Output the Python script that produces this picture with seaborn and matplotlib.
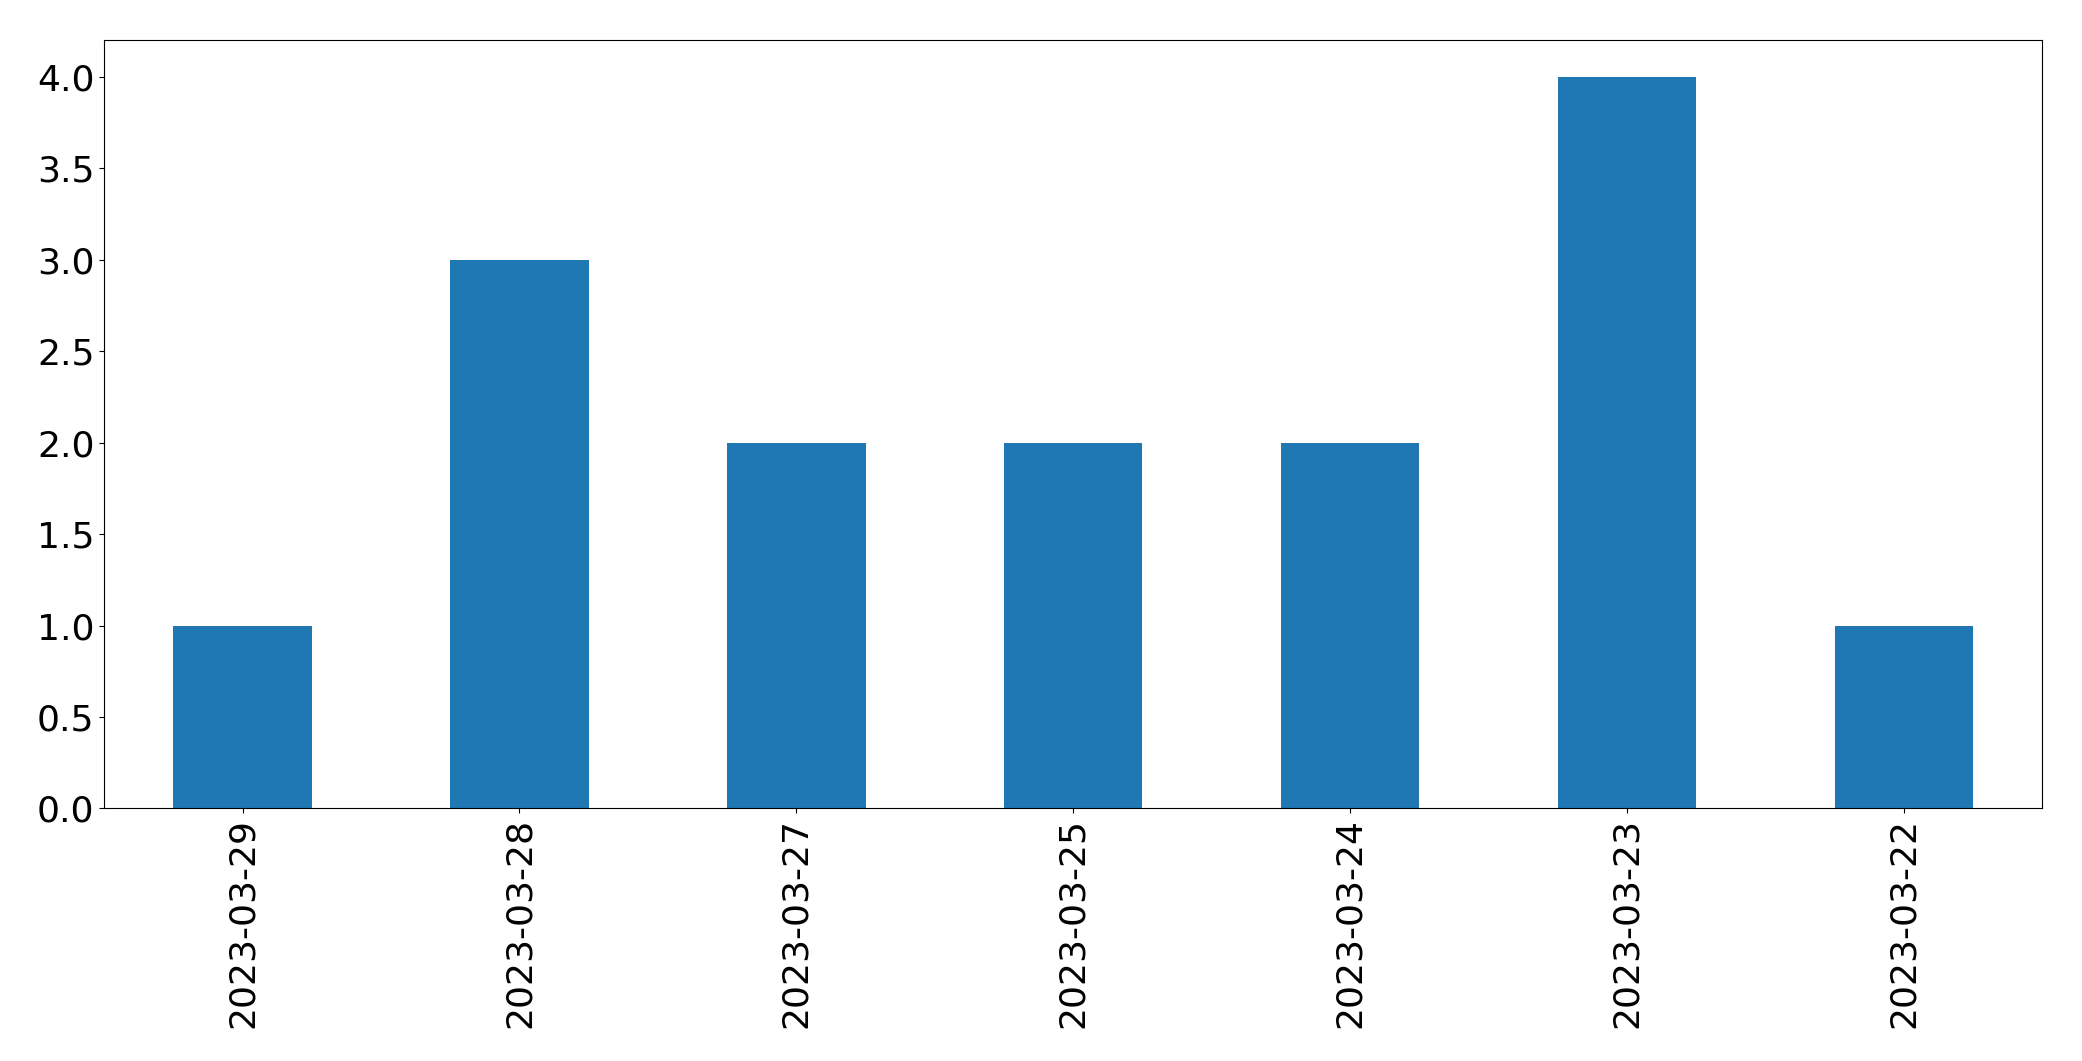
import pandas as pd
import matplotlib.pyplot as plt
import seaborn as sns

# 날짜별 건수
dates = ['2023-03-29', '2023-03-28', '2023-03-27', '2023-03-25',
         '2023-03-24', '2023-03-23', '2023-03-22']
counts = [1, 3, 2, 2, 2, 4, 1]

plot_df = pd.DataFrame({'date': dates, 'count': counts})

fig, ax = plt.subplots(figsize=(20.82, 10.61), dpi=100)
fig.subplots_adjust(left=0.05, right=0.981, top=0.962, bottom=0.238)

sns.barplot(x='date', y='count', data=plot_df, ax=ax, color='#1f77b4',
            width=0.5, saturation=1)
ax.set_xlabel('')
ax.set_ylabel('')
ax.set_ylim(0, 4.2)
ax.set_xlim(-0.5, len(dates) - 0.5)
ax.set_yticks([0, 0.5, 1.0, 1.5, 2.0, 2.5, 3.0, 3.5, 4.0])
ax.set_yticklabels([f"{v:.1f}" for v in ax.get_yticks()])
ax.tick_params(axis='both', labelsize=26)
ax.tick_params(axis='x', labelrotation=90)

plt.savefig('out.png', dpi=100)
plt.close()
